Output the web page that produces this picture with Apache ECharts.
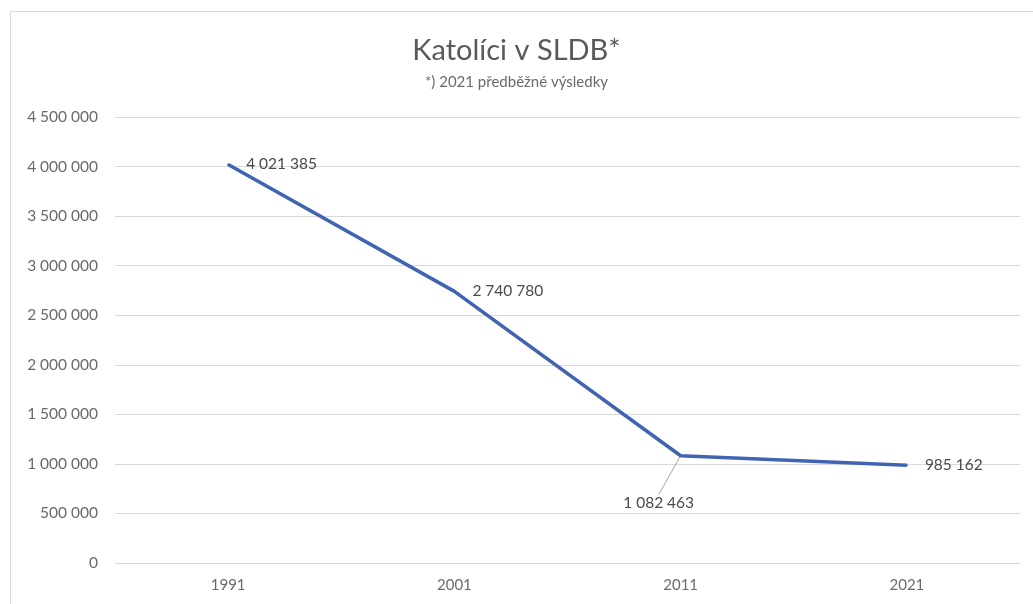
<!DOCTYPE html>
<html>
<head>
<meta charset="utf-8">
<script src="https://cdn.jsdelivr.net/npm/echarts@6/dist/echarts.min.js"></script>
<style>
html,body{margin:0;padding:0;background:#fff;}
#c{width:1033px;height:604px;}
</style>
</head>
<body>
<div id="c"></div>
<script>
const years = ['1991', '2001', '2011', '2021'];
const catholics = [4021385, 2740780, 1082463, 985162];
const yTicks = [0, 500000, 1000000, 1500000, 2000000, 2500000, 3000000, 3500000, 4000000, 4500000];

function fmt(v) {
  return String(v).replace(/\B(?=(\d{3})+(?!\d))/g, ' ');
}

const chart = echarts.init(document.getElementById('c'));
chart.setOption({
  backgroundColor: '#fff',
  animation: false,
  graphic: [{
    type: 'rect',
    shape: { x: 10.5, y: 11.5, width: 1040, height: 620 },
    style: { fill: 'none', stroke: '#d9d9d9', lineWidth: 1 },
    silent: true
  }],
  title: {
    text: 'Katolíci v SLDB*',
    subtext: '*) 2021 předběžné výsledky',
    left: 'center',
    top: 31,
    itemGap: 10,
    textStyle: { fontFamily: 'Lato', fontSize: 29, fontWeight: 'normal', color: '#595959' },
    subtextStyle: { fontFamily: 'Lato', fontSize: 15, color: '#6a6a6a' }
  },
  grid: { left: 115, right: 13, top: 117, bottom: 41, containLabel: false },
  xAxis: {
    type: 'category',
    data: years,
    boundaryGap: true,
    axisLine: { show: false },
    axisTick: { show: false },
    axisLabel: { color: '#6a6a6a', fontFamily: 'Lato', fontSize: 15, margin: 15 }
  },
  yAxis: {
    type: 'value',
    min: yTicks[0],
    max: yTicks[yTicks.length - 1],
    interval: 500000,
    axisLine: { show: false },
    axisTick: { show: false },
    splitLine: { lineStyle: { color: '#d9d9d9', width: 1 } },
    axisLabel: { color: '#6a6a6a', fontFamily: 'Lato', fontSize: 15.5, margin: 17, formatter: fmt }
  },
  series: [{
    type: 'line',
    data: catholics.map((v, i) => i === 2 ? {
      value: v,
      label: { position: 'bottom' },
      labelLine: { show: true, lineStyle: { color: '#a6a6a6', width: 1 } }
    } : v),
    symbol: 'circle',
    symbolSize: 2,
    showSymbol: true,
    itemStyle: { color: '#4164B2' },
    lineStyle: { color: '#4164B2', width: 3.5 },
    label: {
      show: true,
      position: 'right',
      distance: 17,
      color: '#4a4a4a',
      fontFamily: 'Lato',
      fontSize: 15.5,
      formatter: p => fmt(p.value)
    },
    labelLayout: function (p) {
      if (p.dataIndex === 2) return { dx: -22, dy: 21 };
      return {};
    }
  }]
});
</script>
</body>
</html>
